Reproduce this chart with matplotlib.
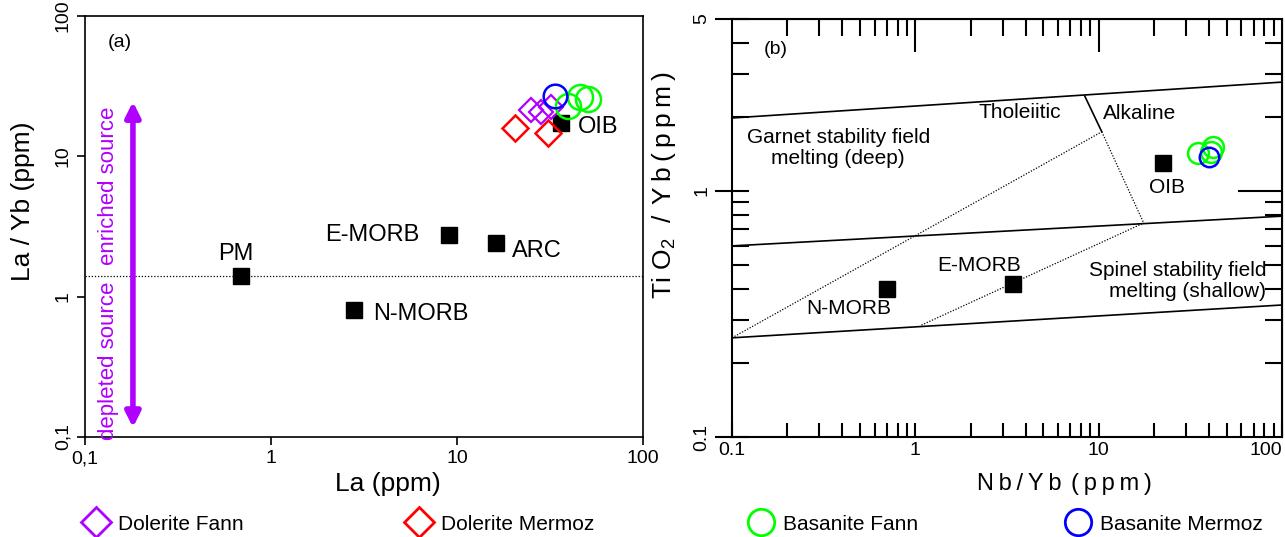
import matplotlib
matplotlib.use('Agg')
import matplotlib.pyplot as plt
from matplotlib.lines import Line2D
from matplotlib.ticker import FixedLocator, NullFormatter

plt.rcParams['font.family'] = ['Liberation Sans', 'DejaVu Sans']
plt.rcParams['mathtext.fontset'] = 'custom'
plt.rcParams['mathtext.rm'] = 'Liberation Sans'

PURPLE = '#B000FF'

# ---- panel (a): La vs La/Yb ----
ref_names_a = ['PM', 'N-MORB', 'E-MORB', 'ARC', 'OIB']
ref_la = [0.69, 2.8, 9.1, 16.2, 36.2]
ref_layb = [1.40, 0.81, 2.73, 2.43, 17.2]

dol_fann_la = [25.0, 28.3, 32.0]
dol_fann_layb = [21.3, 20.6, 22.4]
dol_mermoz_la = [20.5, 30.8]
dol_mermoz_layb = [15.8, 14.6]
bas_fann_la = [39.5, 45.8, 50.6]
bas_fann_layb = [22.8, 26.4, 25.5]
bas_mermoz_la = [33.6]
bas_mermoz_layb = [26.8]

pm_line = 1.4

# ---- panel (b): Nb/Yb vs TiO2/Yb ----
ref_names_b = ['N-MORB', 'E-MORB', 'OIB']
ref_nbyb = [0.70, 3.39, 22.4]
ref_tiyb = [0.40, 0.42, 1.30]

bas_fann_nbyb = [34.7, 42.0, 41.0]
bas_fann_tiyb = [1.43, 1.51, 1.44]
bas_mermoz_nbyb = [39.9]
bas_mermoz_tiyb = [1.375]

# field boundaries (x, y pairs)
upper_line = ([0.1, 100], [1.98, 2.77])
middle_line = ([0.1, 100], [0.598, 0.79])
lower_line = ([0.1, 100], [0.253, 0.344])
thol_alk_solid = ([8.4, 10.4], [2.43, 1.74])
thol_alk_dotted = ([10.4, 17.6], [1.74, 0.741])
diag_left = ([0.1, 10.4], [0.253, 1.74])
diag_right = ([1.08, 17.6], [0.285, 0.741])

fig = plt.figure(figsize=(12.85, 5.37), dpi=100)
ax1 = fig.add_axes([85 / 1285, 1 - 437 / 537, 558 / 1285, 421 / 537])
ax2 = fig.add_axes([732 / 1285, 1 - 437 / 537, 550 / 1285, 418 / 537])

# ---------- (a) ----------
ax1.set_xscale('log')
ax1.set_yscale('log')
ax1.set_xlim(0.1, 100)
ax1.set_ylim(0.1, 100)
ax1.axhline(pm_line, color='black', ls=(0, (1, 1.5)), lw=0.9, zorder=1)

ax1.plot(ref_la, ref_layb, 's', color='black', ms=12, zorder=3)
ax1.plot(dol_fann_la, dol_fann_layb, 'D', mfc='none', mec=PURPLE, ms=12, mew=1.6, zorder=4)
ax1.plot(dol_mermoz_la, dol_mermoz_layb, 'D', mfc='none', mec='red', ms=13, mew=1.8, zorder=4)
ax1.plot(bas_fann_la, bas_fann_layb, 'o', mfc='none', mec='#00FF00', ms=18, mew=1.8, zorder=4)
ax1.plot(bas_mermoz_la, bas_mermoz_layb, 'o', mfc='none', mec='blue', ms=17, mew=1.8, zorder=5)

lab_a = {
    'PM': (0.65, 2.03),
    'N-MORB': (6.4, 0.756),
    'E-MORB': (3.49, 2.77),
    'ARC': (26.9, 2.13),
    'OIB': (57.3, 16.1),
}
for name in ref_names_a:
    x, y = lab_a[name]
    ax1.text(x, y, name, fontsize=17, ha='center', va='center')

ax1.annotate('', xy=(0.181, 24.5), xytext=(0.181, 0.117),
             arrowprops=dict(arrowstyle='<|-|>', color=PURPLE, lw=4, mutation_scale=22,
                             shrinkA=0, shrinkB=0))
ax1.text(0.133, 6.2, 'enriched source', color=PURPLE, fontsize=16, rotation=90,
         ha='center', va='center')
ax1.text(0.133, 0.349, 'depleted source', color=PURPLE, fontsize=16, rotation=90,
         ha='center', va='center')
ax1.text(0.063, 0.938, '(a)', transform=ax1.transAxes, fontsize=14, ha='center', va='center')

ax1.set_xticks([0.1, 1, 10, 100])
ax1.set_xticklabels(['0,1', '1', '10', '100'], fontsize=14)
ax1.set_yticks([0.1, 1, 10, 100])
ax1.set_yticklabels(['0,1', '1', '10', '100'], fontsize=14, rotation=90, va='center')
ax1.minorticks_off()
ax1.tick_params(direction='out', length=6, width=1.2)
for s in ax1.spines.values():
    s.set_linewidth(1.2)
ax1.set_xlabel('La (ppm)', fontsize=19)
ax1.set_ylabel('La / Yb (ppm)', fontsize=19)
ax1.xaxis.set_label_coords(0.543, -0.083)
ax1.yaxis.set_label_coords(-0.09, 0.56)

# ---------- (b) ----------
ax2.set_xscale('log')
ax2.set_yscale('log')
ax2.set_xlim(0.1, 100)
ax2.set_ylim(0.1, 5)

for xs, ys in [upper_line, middle_line, lower_line, thol_alk_solid]:
    ax2.plot(xs, ys, color='black', lw=1.2)
for xs, ys in [thol_alk_dotted, diag_left, diag_right]:
    ax2.plot(xs, ys, color='black', lw=0.9, ls=(0, (1, 1.3)))

ax2.plot(ref_nbyb, ref_tiyb, 's', color='black', ms=12, zorder=3)
ax2.plot(bas_fann_nbyb, bas_fann_tiyb, 'o', mfc='none', mec='#00FF00', ms=15, mew=1.8, zorder=4)
ax2.plot(bas_mermoz_nbyb, bas_mermoz_tiyb, 'o', mfc='none', mec='blue', ms=14, mew=1.8, zorder=5)

lab_b = {
    'N-MORB': (0.435, 0.334),
    'E-MORB': (2.24, 0.50),
    'OIB': (23.5, 1.03),
}
for name in ref_names_b:
    x, y = lab_b[name]
    ax2.text(x, y, name, fontsize=15, ha='center', va='center')

ax2.text(3.7, 2.08, 'Tholeiitic', fontsize=15, ha='center', va='center')
ax2.text(10.6, 2.06, 'Alkaline', fontsize=15, ha='left', va='center')
ax2.text(0.38, 1.50, 'Garnet stability field\nmelting (deep)', fontsize=15,
         ha='center', va='center', linespacing=1.15)
ax2.text(82, 0.43, 'Spinel stability field\nmelting (shallow)', fontsize=15,
         ha='right', va='center', multialignment='right', linespacing=1.15)
ax2.text(0.08, 0.928, '(b)', transform=ax2.transAxes, fontsize=14, ha='center', va='center')

minor_x = [m * 10.0 ** e for e in (-1, 0, 1) for m in range(2, 10)]
minor_y = [m * 0.1 for m in range(2, 10)] + [2, 3, 4]

ax2.set_xticks([0.1, 1, 10, 100])
ax2.set_xticklabels(['0.1', '1', '10', '100'], fontsize=14)
ax2.get_xticklabels()[-1].set_horizontalalignment('right')
ax2.xaxis.set_minor_locator(FixedLocator(minor_x))
ax2.xaxis.set_minor_formatter(NullFormatter())
ax2.set_yticks([0.1, 1, 5])
ax2.set_yticklabels(['0.1', '1', '5'], fontsize=14, rotation=90, va='center')
ax2.yaxis.set_minor_locator(FixedLocator(minor_y))
ax2.yaxis.set_minor_formatter(NullFormatter())
ax2.tick_params(axis='x', which='both', direction='in', length=10, width=1.5)
ax2.tick_params(axis='y', which='major', direction='inout', length=24, width=1.5)
ax2.tick_params(axis='y', which='minor', direction='in', length=12, width=1.5)

top = ax2.secondary_xaxis('top')
top.set_xticks([1, 10])
top.xaxis.set_minor_locator(FixedLocator(minor_x))
top.tick_params(which='major', direction='in', length=24, width=1.5, labeltop=False)
top.tick_params(which='minor', direction='in', length=12, width=1.5)
top.set_xticklabels([])
top.xaxis.set_minor_formatter(NullFormatter())

right = ax2.secondary_yaxis('right')
right.set_yticks([1])
right.yaxis.set_minor_locator(FixedLocator(minor_y))
right.tick_params(which='major', direction='in', length=32, width=1.5)
right.tick_params(which='minor', direction='in', length=12, width=1.5)
right.set_yticklabels([])
right.yaxis.set_minor_formatter(NullFormatter())

for s in ax2.spines.values():
    s.set_linewidth(1.5)

sp = '\u2009'
ax2.set_xlabel(sp.join('Nb/Yb') + sp * 2 + sp.join('(ppm)'), fontsize=17)
ax2.set_ylabel(r'Ti O$_2$' + sp * 3 + '/' + sp * 2 + sp.join('Yb(ppm)'), fontsize=19)
ax2.xaxis.set_label_coords(0.604, -0.086)
ax2.yaxis.set_label_coords(-0.098, 0.603)

# ---------- legend row ----------
legend_items = [
    ('Dolerite Fann', 'D', PURPLE, 95),
    ('Dolerite Mermoz', 'D', 'red', 418),
    ('Basanite Fann', 'o', '#00FF00', 760),
    ('Basanite Mermoz', 'o', 'blue', 1077),
]
for label, marker, color, xpix in legend_items:
    ms = 15 if marker == 'D' else 19
    h = Line2D([], [], ls='none', marker=marker, mfc='none', mec=color, ms=ms, mew=2)
    fig.legend(handles=[h], labels=[label], loc='center left',
               bbox_to_anchor=((xpix - 12) / 1285, 1 - 524 / 537),
               frameon=False, fontsize=15, handlelength=1.2, handletextpad=0.5,
               borderpad=0, borderaxespad=0)

fig.savefig('out.png', dpi=100)
